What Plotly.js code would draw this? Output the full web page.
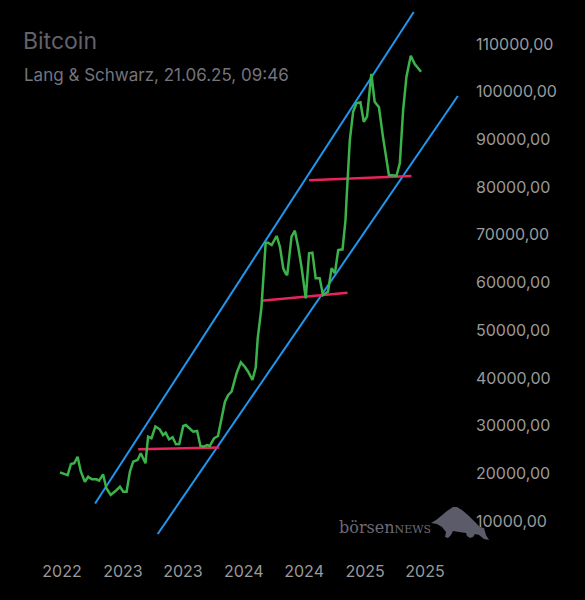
<!DOCTYPE html>
<html>
<head>
<meta charset="utf-8">
<script src="https://cdn.plot.ly/plotly-3.0.1.min.js"></script>
<style>
html,body{margin:0;padding:0;background:#000;}
#chart{width:585px;height:600px;}
</style>
</head>
<body>
<div id="chart"></div>
<script>
// ---- Data ----
const priceDates = [
'2022-06-25','2022-07-18','2022-07-28','2022-08-07','2022-08-17','2022-08-27','2022-09-08','2022-09-18','2022-09-29','2022-10-13',
'2022-10-21','2022-11-02','2022-11-12','2022-11-25','2022-12-13','2022-12-23','2023-01-02','2023-01-12','2023-01-22','2023-02-01',
'2023-02-14','2023-02-24','2023-03-10','2023-03-18','2023-03-28','2023-04-09','2023-04-22','2023-05-02','2023-05-10','2023-05-20',
'2023-05-31','2023-06-10','2023-06-20','2023-07-02','2023-07-10','2023-07-22','2023-08-01','2023-08-13','2023-08-23','2023-09-02',
'2023-09-12','2023-09-20','2023-10-03','2023-10-15','2023-10-26','2023-11-05','2023-11-15','2023-11-25','2023-12-10','2023-12-23',
'2024-01-04','2024-01-14','2024-01-27','2024-02-06','2024-02-12','2024-02-23','2024-03-07','2024-03-14','2024-03-25','2024-04-09',
'2024-04-19','2024-04-29','2024-05-07','2024-05-11','2024-05-24','2024-06-03','2024-06-13','2024-06-23','2024-07-06','2024-07-16',
'2024-07-26','2024-08-05','2024-08-17','2024-08-27','2024-09-11','2024-09-22','2024-10-02','2024-10-12','2024-10-25','2024-11-03',
'2024-11-06','2024-11-16','2024-11-26','2024-12-06','2024-12-18','2024-12-28','2025-01-07','2025-01-20','2025-01-30','2025-02-12',
'2025-02-24','2025-03-14','2025-04-06','2025-04-16','2025-04-26','2025-05-06','2025-05-19','2025-05-31','2025-06-19'
];
const priceValues = [
20200,19600,21950,22100,23480,20340,18240,19290,18740,18740,
18450,19790,16860,15450,16500,17190,16140,16140,20340,22430,
22790,24190,22100,27670,27340,29810,29220,28030,28510,27130,
27550,26080,26140,29920,30130,29430,28720,28870,25720,25580,
25930,25720,27340,27820,31870,35010,36420,37110,40960,43270,
42350,41300,39560,42220,48360,54650,68340,68340,67860,69750,
67510,62980,61780,61570,69600,70860,67510,63310,56690,66120,
66250,60880,60880,57380,58070,62980,61930,66810,66960,73100,
77290,89870,95810,97570,97780,93710,94760,103710,97900,96730,
90570,82540,82390,84990,96160,103140,107550,105810,104190
];

// Trend channel (blue)
const upperChannelDates = ['2022-10-09','2025-05-28'];
const upperChannelValues = [13670,116700];
const lowerChannelDates = ['2023-04-16','2025-10-08'];
const lowerChannelValues = [7280,99100];

// Support lines (pink)
const support1Dates = ['2023-02-16','2023-10-19'];
const support1Values = [25030,25410];
const support2Dates = ['2024-02-23','2024-11-09'];
const support2Values = [56180,57860];
const support3Dates = ['2024-07-16','2025-05-21'];
const support3Values = [81450,82330];

// Axis ticks
const xTickVals = ['2022-07-01','2023-01-01','2023-07-01','2024-01-01','2024-07-01','2025-01-01','2025-07-01'];
const xTickText = ['2022','2023','2023','2024','2024','2025','2025'];
const yTickVals = [10000,20000,30000,40000,50000,60000,70000,80000,90000,100000,110000];

const titleText = 'Bitcoin';
const subtitleText = 'Lang &amp; Schwarz, 21.06.25, 09:46';

// ---- Layout geometry ----
const W = 585, H = 600;
const M = {l: 20, r: 115, t: 0, b: 44};
const plotW = W - M.l - M.r, plotH = H - M.t - M.b;

// x scale calibration: label '2022' (2022-07-01) at px 62, last '2025' (2025-07-01) at px 425
const xA = Date.parse('2022-07-01T00:00:00Z'), xB = Date.parse('2025-07-01T00:00:00Z');
const msPerPx = (xB - xA) / (425 - 62);
const xr0 = new Date(xA - (62 - M.l) * msPerPx).toISOString().slice(0,19).replace('T',' ');
const xr1 = new Date(xA + (M.l + plotW - 62) * msPerPx).toISOString().slice(0,19).replace('T',' ');

// y scale calibration: 10000 at px 521, 110000 at px 44
const valPerPx = 100000 / (521 - 44);
const yr1 = 10000 + (521 - M.t) * valPerPx;
const yr0 = 10000 - (M.t + plotH - 521) * valPerPx;

const px2paperX = px => (px - M.l) / plotW;
const px2paperY = py => 1 - (py - M.t) / plotH;

const traces = [
  {x: upperChannelDates, y: upperChannelValues, mode: 'lines', line: {color: '#2196ee', width: 2}},
  {x: lowerChannelDates, y: lowerChannelValues, mode: 'lines', line: {color: '#2196ee', width: 2}},
  {x: support1Dates, y: support1Values, mode: 'lines', line: {color: '#e8245f', width: 2.5}},
  {x: support2Dates, y: support2Values, mode: 'lines', line: {color: '#e8245f', width: 2.5}},
  {x: support3Dates, y: support3Values, mode: 'lines', line: {color: '#e8245f', width: 2.5}},
  {x: priceDates, y: priceValues, mode: 'lines', line: {color: '#3cb34a', width: 2.5}}
];

// bull logo as inline svg
const bullSvg = '<svg xmlns="http://www.w3.org/2000/svg" width="60" height="36" viewBox="0 0 60 36">' +
 '<path fill="#5b5b6a" d="M0,17 L5,14 L10,10 L16,5 L22,1 L26,1 L31,4 L38,10 L44,16 L49,21 L53,22 L55,29 L58,34 L53,33 L48,29 L44,28 L42,31 L39,32 L36,30 L35,27 L28,26 L22,25 L20,29 L17,32 L14,31 L15,26 L11,21 L6,18 Z"/>' +
 '</svg>';
const bullUri = 'data:image/svg+xml;base64,' + btoa(bullSvg);

const layout = {
  width: W, height: H,
  margin: M,
  paper_bgcolor: '#000000',
  plot_bgcolor: '#000000',
  showlegend: false,
  hovermode: false,
  separators: ',.',
  font: {family: 'Inter, "Noto Sans", sans-serif', color: '#9a9a9a', size: 16},
  title: {
    text: titleText,
    x: 23 / W, xanchor: 'left', xref: 'container',
    y: 1 - 33 / H, yanchor: 'top', yref: 'container',
    font: {family: 'Inter, "Noto Sans", sans-serif', size: 23, color: '#62626b'}
  },
  xaxis: {
    type: 'date',
    range: [xr0, xr1],
    tickmode: 'array', tickvals: xTickVals, ticktext: xTickText,
    showgrid: false, zeroline: false, showline: false, ticks: '',
    tickfont: {family: 'Inter, "Noto Sans", sans-serif', size: 16, color: '#9a9a9a'},
    ticklabelstandoff: 4,
    fixedrange: true
  },
  yaxis: {
    side: 'right',
    range: [yr0, yr1],
    tickmode: 'array', tickvals: yTickVals,
    tickformat: '.2f',
    showgrid: false, zeroline: false, showline: false, ticks: '',
    tickfont: {family: 'Inter, "Noto Sans", sans-serif', size: 16, color: '#9a9a9a'},
    ticklabelstandoff: 5,
    fixedrange: true
  },
  annotations: [
    {
      text: subtitleText, xref: 'paper', yref: 'paper',
      x: px2paperX(22), y: px2paperY(75), xanchor: 'left', yanchor: 'middle',
      showarrow: false,
      font: {family: 'Inter, "Noto Sans", sans-serif', size: 17, color: '#74747d'}
    },
    {
      text: 'börsen<span style="font-size:11px">NEWS</span>', xref: 'paper', yref: 'paper',
      x: px2paperX(337), y: px2paperY(527), xanchor: 'left', yanchor: 'middle',
      showarrow: false,
      font: {family: '"DejaVu Serif", "Liberation Serif", serif', size: 16, color: '#6b6b78'}
    }
  ],
  images: [
    {
      source: bullUri, xref: 'paper', yref: 'paper',
      x: px2paperX(431), y: px2paperY(506),
      sizex: 60 / plotW, sizey: 36 / plotH,
      xanchor: 'left', yanchor: 'top', sizing: 'stretch', layer: 'above'
    }
  ]
};

Plotly.newPlot('chart', traces, layout, {displayModeBar: false, staticPlot: true});
</script>
</body>
</html>
